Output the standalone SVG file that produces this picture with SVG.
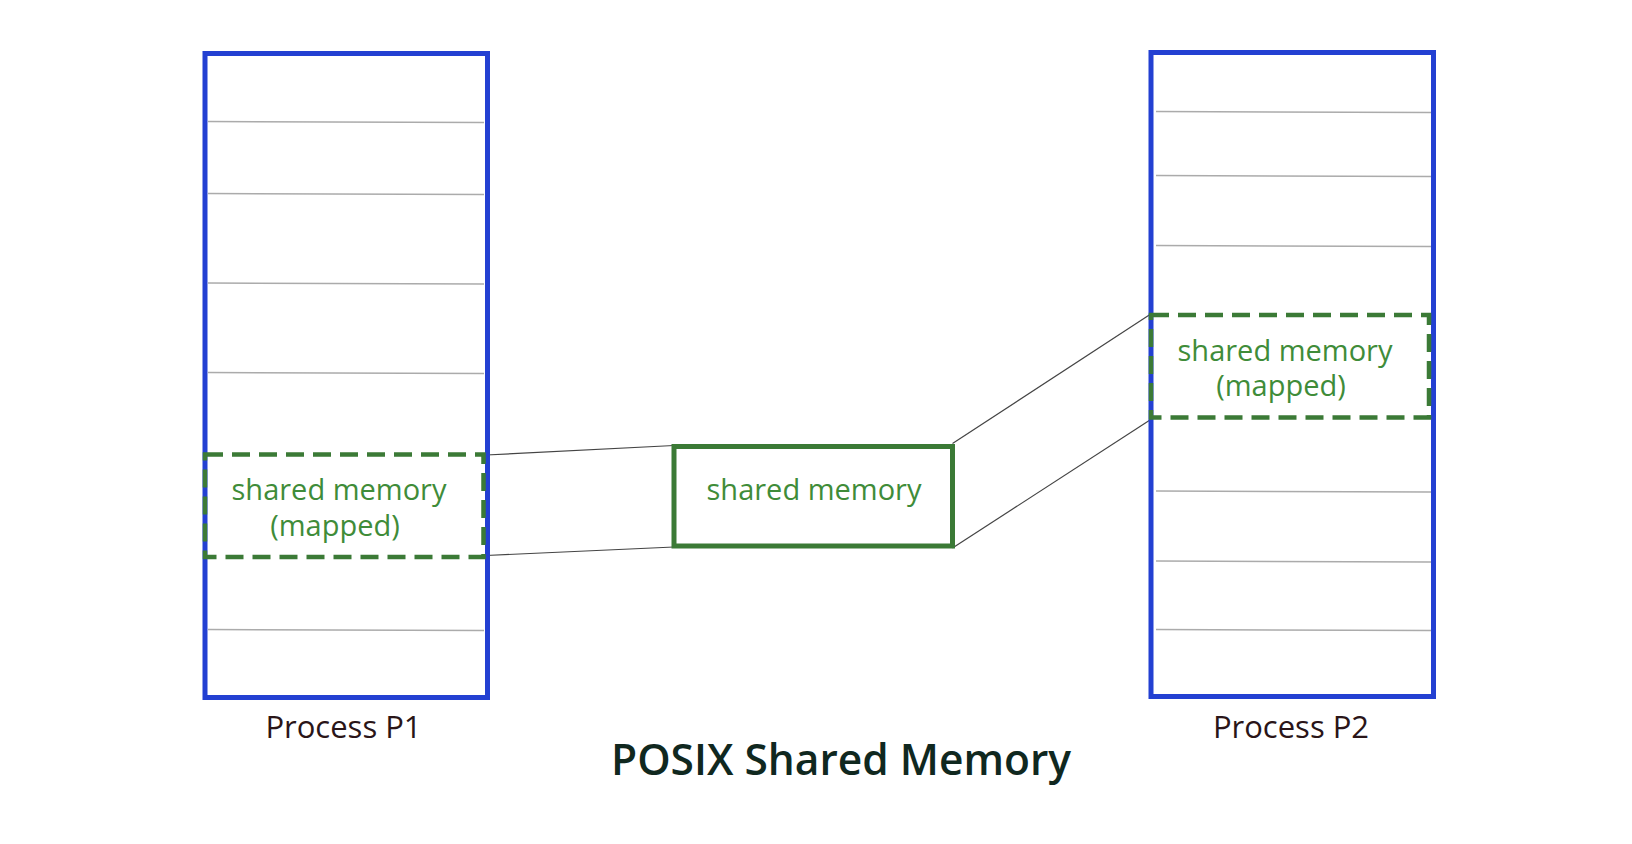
<svg xmlns="http://www.w3.org/2000/svg" width="1632" height="844" viewBox="0 0 1632 844">
<style>
.proc{fill:#fff;stroke:#2340d2;stroke-width:5}
.row{stroke:#ababab;stroke-width:1.5}
.dash{fill:none;stroke:#3b7a36;stroke-width:4.5;stroke-dasharray:18 9}
.shm{fill:#fff;stroke:#3b7a36;stroke-width:5}
.conn{stroke:#444;stroke-width:1.2;fill:none}
.gt{font-family:"Open Sans","Noto Sans",sans-serif;font-size:29px;fill:#3f8c39;text-anchor:middle}
.lbl{font-family:"Open Sans","Noto Sans",sans-serif;font-size:31px;fill:#2a1518;text-anchor:middle}
.title{font-family:"Open Sans","Noto Sans",sans-serif;font-size:42.5px;font-weight:600;fill:#10281f;text-anchor:middle}
</style>
<rect width="1632" height="844" fill="#fff"/>
<g id="connectors">
<line class="conn" x1="486" y1="455" x2="674" y2="445.5"/>
<line class="conn" x1="486" y1="555.5" x2="674" y2="547"/>
<line class="conn" x1="952.5" y1="443.5" x2="1150" y2="314.5"/>
<line class="conn" x1="952.5" y1="548" x2="1150" y2="420"/>
</g>
<g id="process-p1">
<rect class="proc" x="205" y="53.5" width="282.5" height="644"/>
<line class="row" x1="208" y1="121.5" x2="484" y2="122.5"/>
<line class="row" x1="208" y1="193.5" x2="484" y2="194.5"/>
<line class="row" x1="208" y1="283" x2="484" y2="284"/>
<line class="row" x1="208" y1="372.5" x2="484" y2="373.5"/>
<line class="row" x1="208" y1="629.5" x2="484" y2="630.5"/>
<text class="lbl" x="343.5" y="738">Process P1</text>
</g>
<g id="p1-shared-mapped">
<rect class="dash" x="205" y="454.5" width="278.5" height="102.5"/>
<text class="gt" x="339" y="500">shared memory</text>
<text class="gt" x="335" y="536">(mapped)</text>
</g>
<g id="shared-memory">
<rect class="shm" x="674" y="446.5" width="278.5" height="99.5"/>
<text class="gt" x="814" y="500">shared memory</text>
</g>
<g id="process-p2">
<rect class="proc" x="1151" y="52.5" width="282.5" height="644"/>
<line class="row" x1="1156" y1="111.5" x2="1431" y2="112.5"/>
<line class="row" x1="1156" y1="175.5" x2="1431" y2="176.5"/>
<line class="row" x1="1156" y1="245.5" x2="1431" y2="246.5"/>
<line class="row" x1="1156" y1="491" x2="1431" y2="492"/>
<line class="row" x1="1156" y1="561" x2="1431" y2="562"/>
<line class="row" x1="1156" y1="629.5" x2="1431" y2="630.5"/>
<text class="lbl" x="1291" y="738">Process P2</text>
</g>
<g id="p2-shared-mapped">
<rect class="dash" x="1151" y="315" width="278" height="102.5"/>
<text class="gt" x="1285" y="361">shared memory</text>
<text class="gt" x="1281" y="396">(mapped)</text>
</g>
<g id="title">
<text class="title" x="841" y="775">POSIX Shared Memory</text>
</g>
</svg>
